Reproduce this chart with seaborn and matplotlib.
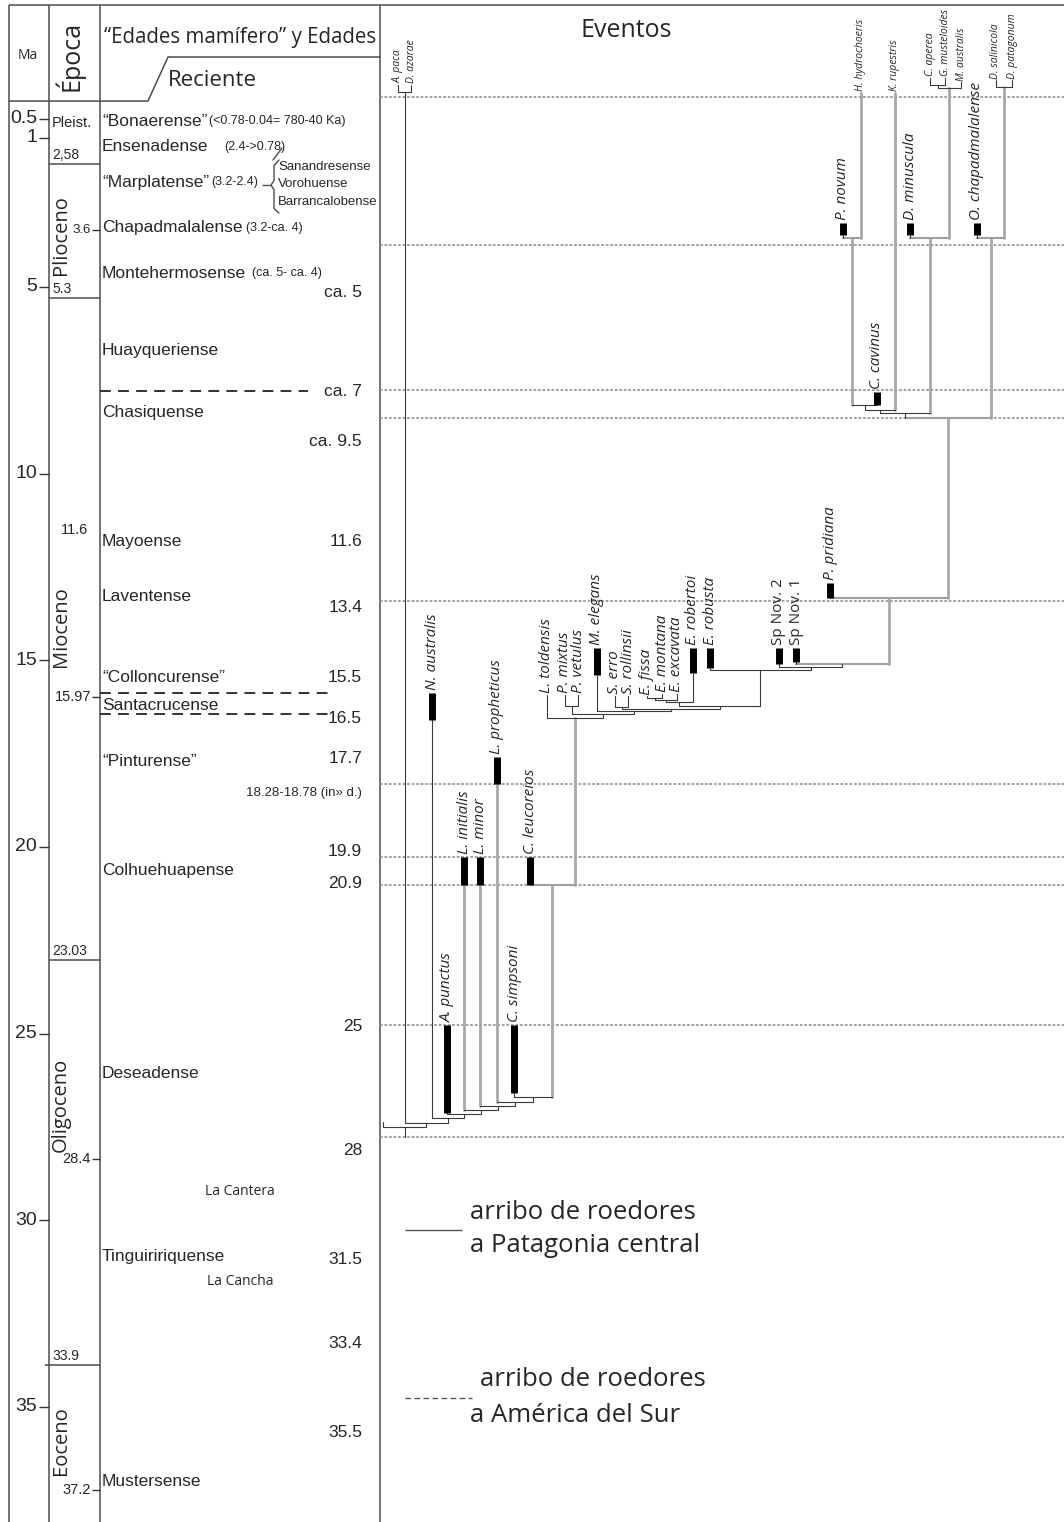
import numpy as np
import pandas as pd
import matplotlib.pyplot as plt
import seaborn as sns

sns.set_theme(style="white")
NARROW = ["Liberation Sans", "DejaVu Sans"]
HUMAN = ["Open Sans", "DejaVu Sans"]
plt.rcParams["font.family"] = NARROW

# ---- time scale (Ma, as placed on the drawn axis) ----
ma_ticks = [0.5, 1, 5, 10, 15, 20, 25, 30, 35]

epoch_names = ["Plioceno", "Mioceno", "Oligoceno", "Eoceno"]
epoch_mid = [3.6, 14.1, 26.9, 35.9]
epoch_bounds = [1.71, 5.30, 23.03, 33.88]
epoch_bound_labels = ["2,58", "5.3", "23.03", "33.9"]
epoch_marks = [3.47, 15.99, 28.36, 37.23]
epoch_mark_labels = ["3.6", "15.97", "28.4", "37.2"]

age_names = ["“Bonaerense”", "Ensenadense", "“Marplatense”", "Chapadmalalense",
             "Montehermosense", "Huayqueriense", "Chasiquense", "Mayoense",
             "Laventense", "“Colloncurense”", "Santacrucense", "“Pinturense”",
             "Colhuehuapense", "Deseadense", "Tinguiririquense", "Mustersense"]
age_ma = [0.56, 1.25, 2.19, 3.42, 4.63, 6.69, 8.35, 11.83, 13.30, 15.47,
          16.20, 17.72, 20.62, 26.08, 30.98, 37.01]
age_notes = ["(<0.78-0.04= 780-40 Ka)", "(2.4->0.78)", "(3.2-2.4)",
             "(3.2-ca. 4)", "(ca. 5- ca. 4)"]
note_x = [209, 224, 211, 246, 252]

subage_names = ["Sanandresense", "Vorohuense", "Barrancalobense"]
subage_ma = [1.79, 2.24, 2.72]

age_values = ["ca. 5", "ca. 7", "ca. 9.5", "11.6", "13.4", "15.5", "16.5", "17.7",
              "18.28-18.78 (in» d.)", "19.9", "20.9", "25", "28", "31.5", "33.4", "35.5"]
age_values_ma = [5.16, 7.81, 9.15, 11.83, 13.60, 15.47, 16.57, 17.64, 18.56,
                 20.13, 20.97, 24.82, 28.12, 31.06, 33.29, 35.70]

age_dashes = [7.78, 15.88, 16.44]
dash_end = [308, 328, 328]

localities = ["La Cantera", "La Cancha"]
locality_ma = [29.24, 31.65]

event_lines = [-0.09, 3.88, 7.76, 8.51, 13.41, 18.31, 20.27, 21.02, 24.77, 27.77]

# ---- taxa with first-record bars ----
bar_taxa = ["P. novum", "D. minuscula", "O. chapadmalalense", "C. cavinus",
            "P. pridiana", "Sp Nov. 2", "Sp Nov. 1", "E. robusta", "E. robertoi",
            "M. elegans", "N. australis", "L. propheticus", "C. leucoreios",
            "L. initialis", "L. minor", "A. punctus", "C. simpsoni"]
bar_top = [3.29, 3.29, 3.29, 7.81, 12.93, 14.67, 14.67, 14.67, 14.67, 14.67,
           15.88, 17.59, 20.27, 20.27, 20.27, 24.77, 24.77]
bar_bottom = [3.61, 3.61, 3.61, 8.16, 13.33, 15.10, 15.05, 15.21, 15.34, 15.40,
              16.60, 18.31, 21.02, 21.02, 21.02, 27.13, 26.59]
bar_x = [843, 910, 977, 877, 830, 779, 796, 710, 693, 597, 432, 497, 530, 464,
         480, 447, 514]

# ---- taxa without bars ----
plain_taxa = ["A. paca", "D. azarae", "H. hydrochoeris", "K. rupestris", "C. aperea",
              "G. musteloides", "M. australis", "D. salinicola", "D. patagonum",
              "L. toldensis", "P. mixtus", "P. vetulus", "S. erro", "S. rollinsii",
              "E. fissa", "E. montana", "E. excavata", ""]
plain_top = [-0.42, -0.42, -0.2, -0.2, -0.6, -0.6, -0.49, -0.54, -0.54,
             15.92, 15.92, 15.92, 15.95, 15.95, 15.97, 15.90, 15.90, 27.38]
plain_x = [398, 411, 861, 895, 930, 945, 961, 996, 1012, 547, 565, 578, 615, 628,
           647, 662, 677, 383]

# ---- tree nodes ----
node_names = ["AD", "CG", "CGM", "DD", "Hn", "Dm", "Oc", "U4", "U3", "U2", "U1",
              "Pp", "S1", "S2", "R", "Ef", "Ee", "Er", "ER", "Ss", "SE", "ME",
              "Pmv", "PM", "Crown", "Lc", "Cs", "Lp", "Lm", "Li", "Ap", "Na", "Ad", "Root"]
node_kids = [("A. paca", "D. azarae"), ("C. aperea", "G. musteloides"), ("CG", "M. australis"),
             ("D. salinicola", "D. patagonum"), ("P. novum", "H. hydrochoeris"),
             ("D. minuscula", "CGM"), ("O. chapadmalalense", "DD"), ("Hn", "C. cavinus"),
             ("U4", "K. rupestris"), ("U3", "Dm"), ("U2", "Oc"), ("P. pridiana", "U1"),
             ("Sp Nov. 1", "Pp"), ("Sp Nov. 2", "S1"), ("E. robusta", "S2"),
             ("E. fissa", "E. montana"), ("Ef", "E. excavata"), ("Ee", "E. robertoi"),
             ("Er", "R"), ("S. erro", "S. rollinsii"), ("Ss", "ER"), ("M. elegans", "SE"),
             ("P. mixtus", "P. vetulus"), ("Pmv", "ME"), ("L. toldensis", "PM"),
             ("C. leucoreios", "Crown"), ("C. simpsoni", "Lc"), ("L. propheticus", "Cs"),
             ("L. minor", "Lp"), ("L. initialis", "Lm"), ("A. punctus", "Li"),
             ("N. australis", "Ap"), ("AD", "Na"), ("", "Ad")]
node_ma = [-0.22, -0.41, -0.33, -0.36, 3.69, 3.69, 3.69, 8.16, 8.30, 8.38, 8.51,
           13.33, 15.10, 15.18, 15.26, 16.01, 16.07, 16.12, 16.22, 16.24, 16.30, 16.36,
           16.22, 16.44, 16.55, 21.02, 26.70, 26.83, 26.94, 27.05, 27.16, 27.26, 27.40, 27.50]
root_base = 27.77

gray_branches = {"H. hydrochoeris", "K. rupestris", "CGM", "DD", "Hn", "Dm", "Oc", "U1",
                 "Pp", "L. initialis", "L. minor", "L. propheticus", "Lc", "Crown"}
gray_nodes = {"Hn", "Dm", "Oc", "U1", "Pp", "S1", "Lc"}

# ---- figure ----
Y0, PXMA = 100.3, 37.33
TOP, BOTTOM = -Y0 / PXMA, (1522 - Y0) / PXMA

fig = plt.figure(figsize=(10.64, 15.22), dpi=100)
ax = fig.add_axes([0, 0, 1, 1])

frame = "#4d4d4d"
# column frame
ax.vlines([9, 49, 100, 380], -2.55, BOTTOM, color=frame, lw=1.1)
ax.hlines(-2.55, 9, 1064, color=frame, lw=1.1)
ax.plot([9, 148, 168, 380], [0.02, 0.02, -1.16, -1.16], color=frame, lw=1.1)

# dotted event lines
ax.hlines(event_lines, 380, 1064, color="#9a9a9a", lw=1.3, linestyles=(0, (1.5, 1)))

# headers
ax.text(28, -1.21, "Ma", family=HUMAN, fontsize=10, ha="center", va="center")
ax.text(69, -1.19, "Época", family=HUMAN, fontsize=18, rotation=90, ha="center", va="center")
ax.text(240, -1.67, "“Edades mamífero” y Edades", family=HUMAN, fontsize=14.8,
        ha="center", va="center")
ax.text(168, -0.54, "Reciente", family=HUMAN, fontsize=16, ha="left", va="center")
ax.text(626, -1.88, "Eventos", family=HUMAN, fontsize=18, ha="center", va="center")

# Ma column
ax.hlines(ma_ticks, 39, 49, color="#333333", lw=1)
for v in ma_ticks:
    ax.text(37, v, f"{v:g}", fontsize=14, ha="right", va="center")

# epoch column
ax.text(52, 0.6, "Pleist.", fontsize=10.5, ha="left", va="center")
for b, lab in zip(epoch_bounds, epoch_bound_labels):
    ax.hlines(b, 45 if lab == "33.9" else 49, 100, color=frame, lw=1.1)
    ax.text(52, b - 0.06, lab, fontsize=10, ha="left", va="bottom")
ax.hlines(epoch_marks, 92, 100, color="#333333", lw=1)
for m, lab in zip(epoch_marks, epoch_mark_labels):
    ax.text(91, m, lab, fontsize=9.5 if lab == "3.6" else 10.5, ha="right", va="center")
ax.text(88, 11.51, "11.6", fontsize=10.5, ha="right", va="center")
for name, mid in zip(epoch_names, epoch_mid):
    ax.text(61, mid, name, family=HUMAN, fontsize=14.5, rotation=90, ha="center", va="center")

# mammal ages column
for name, m in zip(age_names, age_ma):
    ax.text(102, m, name, fontsize=12.5, ha="left", va="center")
for note, m, x in zip(age_notes, age_ma, note_x):
    ax.text(x, m, note, fontsize=9, ha="left", va="center")
for name, m in zip(subage_names, subage_ma):
    ax.text(278, m, name, fontsize=9.5, ha="left", va="center")
ax.plot([282, 273], [1.28, 1.60], color=frame, lw=1)
ax.plot([279, 274, 274, 271, 274, 274, 279], [1.60, 1.75, 2.15, 2.27, 2.40, 2.90, 3.02],
        color=frame, lw=1)
ax.hlines(2.27, 262, 271, color=frame, lw=1)
for v, m in zip(age_values, age_values_ma):
    size = 9.5 if "(" in v else 12.5
    ax.text(362, m, v, fontsize=size, ha="right", va="center")
for d, e in zip(age_dashes, dash_end):
    ax.hlines(d, 100, e, color="#222222", lw=1.3, linestyles=(0, (6, 4)))
for name, m in zip(localities, locality_ma):
    ax.text(240, m, name, family=HUMAN, fontsize=10, ha="center", va="center")

# ---- tree ----
xpos, start = {}, {}
for n, x, b in zip(bar_taxa, bar_x, bar_bottom):
    xpos[n], start[n] = x, b
for n, x, t in zip(plain_taxa, plain_x, plain_top):
    xpos[n], start[n] = x, t

rows = []
for name, kids, t in zip(node_names, node_kids, node_ma):
    xs = [xpos[k] for k in kids]
    xpos[name], start[name] = sum(xs) / 2, t
    for k in kids:
        kind = "gray" if k in gray_branches else "thin"
        rows += [(k + "|v", kind, xpos[k], start[k]), (k + "|v", kind, xpos[k], t)]
    kind = "grayh" if name in gray_nodes else "thin"
    rows += [(name + "|h", kind, min(xs), t), (name + "|h", kind, max(xs), t)]
rows += [("root", "thin", xpos["Root"], node_ma[-1]), ("root", "thin", xpos["Root"], root_base)]
edges = pd.DataFrame(rows, columns=["seg", "kind", "x", "ma"])

styles = {"gray": ("#a8a8a8", 2.0), "grayh": ("#a0a0a0", 1.5), "thin": ("#3a3a3a", 0.8)}
for kind, (col, lw) in styles.items():
    sns.lineplot(data=edges[edges.kind == kind], x="x", y="ma", units="seg",
                 estimator=None, sort=False, color=col, lw=lw, ax=ax, legend=False)

bars = pd.DataFrame({"taxon": bar_taxa * 2, "x": bar_x * 2, "ma": bar_top + bar_bottom})
sns.lineplot(data=bars, x="x", y="ma", units="taxon", estimator=None, sort=False,
             color="black", lw=5, solid_capstyle="butt", ax=ax, legend=False)

for n, x, t in zip(bar_taxa, bar_x, bar_top):
    ax.text(x, t - 0.08, n, family=HUMAN, fontsize=11, rotation=90, ha="center",
            va="bottom", style="normal" if n.startswith("Sp") else "italic")
for i, (n, x, t) in enumerate(zip(plain_taxa, plain_x, plain_top)):
    if not n:
        continue
    size = 7.5 if i < 9 else 11
    ax.text(x, t - 0.04, n, family=HUMAN, fontsize=size, rotation=90, ha="center",
            va="bottom", style="italic")

# legend
ax.hlines(30.26, 405, 462, color="#555555", lw=1)
ax.text(470, 29.80, "arribo de roedores", family=HUMAN, fontsize=18.5, ha="left", va="center")
ax.text(470, 30.69, "a Patagonia central", family=HUMAN, fontsize=18.5, ha="left", va="center")
ax.hlines(34.76, 405, 472, color="#555555", lw=1, linestyles=(0, (4, 2.5)))
ax.text(480, 34.28, "arribo de roedores", family=HUMAN, fontsize=18.5, ha="left", va="center")
ax.text(470, 35.22, "a América del Sur", family=HUMAN, fontsize=18.5, ha="left", va="center")

ax.set_xlim(0, 1064)
ax.set_ylim(BOTTOM, TOP)
ax.axis("off")
fig.savefig("out.png", dpi=100, facecolor="white")
